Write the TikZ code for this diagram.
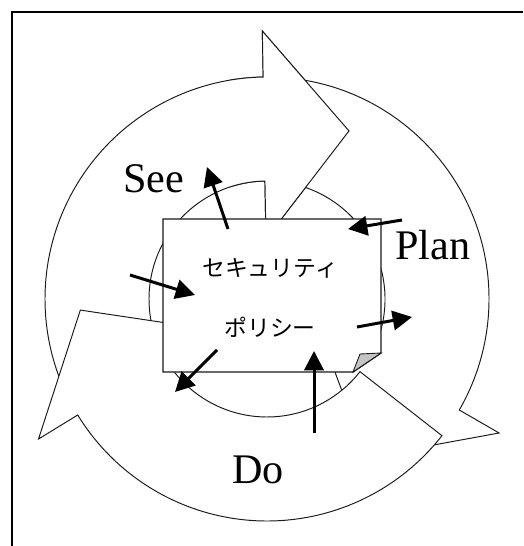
\documentclass[tikz,border=0pt]{standalone}
\usepackage{fontspec}
\setmainfont{Liberation Serif}
\newfontfamily\jpfont{Noto Sans CJK JP}
\usetikzlibrary{arrows.meta,calc}
\definecolor{ink}{HTML}{1A1A1A}
\definecolor{fold}{HTML}{C4C4C4}

\begin{document}
\begin{tikzpicture}[
    x=0.02cm, y=0.02cm,
    cyc/.style={draw=ink, fill=white, line width=0.55pt, line join=miter},
    card/.style={draw=ink, fill=white, line width=0.8pt},
    spoke/.style={-{Triangle[length=11pt,width=11pt]}, line width=1.7pt, color=black},
    word/.style={font=\fontsize{24}{27}\selectfont, text=black, inner sep=0pt},
    jp/.style={font=\jpfont\fontsize{13}{15}\selectfont, text=black, inner sep=0pt}
  ]
\useasboundingbox (0,0) rectangle (523,-546);

% ---------------- geometry ----------------
\coordinate (C) at (267,-299);   % centre of the ring
\def\Rout{222}     % outer radius of ring
\def\Rin{118}      % inner radius of ring
\def\Rbo{268}      % outer barb of arrow head
\def\Rbi{60}       % inner barb of arrow head
\def\Rtip{187}     % radius of head tip
\newcommand{\ringarrow}[3]{% tail angle, head base angle, tip angle
  ($(C)+(#1:\Rout)$) arc[start angle=#1, end angle=#2, radius=\Rout]
  -- ($(C)+(#2:\Rbo)$) -- ($(C)+(#3:\Rtip)$) -- ($(C)+(#2:\Rbi)$)
  -- ($(C)+(#2:\Rin)$) arc[start angle=#2, end angle=#1, radius=\Rin] -- cycle
}

% ---------------- frame ----------------
\draw[line width=1.1pt] (12,-546) -- (12,-12) -- (523,-12);

% ---------------- cycle arrows ----------------
\draw[cyc] \ringarrow{205}{91}{64};        % See
\draw[cyc] \ringarrow{86}{-30}{-57.8};     % Plan
\draw[cyc] \ringarrow{-38}{-148.5}{-176.6};% Do
% See head lies over the tail of Plan
\begin{scope}
  \clip (230,0) rectangle (523,-262);
  \draw[cyc] \ringarrow{205}{91}{64};
\end{scope}

% ---------------- policy card ----------------
\draw[card] (163,-219) -- (381,-219) -- (381,-353) -- (353,-372) -- (163,-372) -- cycle;
\draw[draw=ink, fill=fold, line width=0.5pt] (381,-353) -- (353,-372) -- (360,-354) -- cycle;

\node[jp] (sec) at (270,-268) {セキュリティ};
\node[jp] (pol) at (270,-327) {ポリシー};

% ---------------- phase labels ----------------
\node[word, anchor=base west] (see)  at (123,-193) {See};
\node[word, anchor=base west] (plan) at (395,-260) {Plan};
\node[word, anchor=base west] (do)   at (232,-483) {Do};

% ---------------- small arrows ----------------
\coordinate (seeA) at (228,-229);   \coordinate (seeB) at (207,-167);
\coordinate (planA) at (402,-220);  \coordinate (planB) at (348,-229);
\coordinate (leftA) at (130,-275);  \coordinate (leftB) at (195,-295);
\coordinate (rightA) at (357,-327); \coordinate (rightB) at (412,-317);
\coordinate (lowA) at (217,-350);   \coordinate (lowB) at (175,-392);
\coordinate (upA) at (314,-433);    \coordinate (upB) at (314,-351);

\foreach \k in {see,plan,left,right,low,up}
  \draw[spoke] (\k A) -- (\k B);

\end{tikzpicture}
\end{document}
